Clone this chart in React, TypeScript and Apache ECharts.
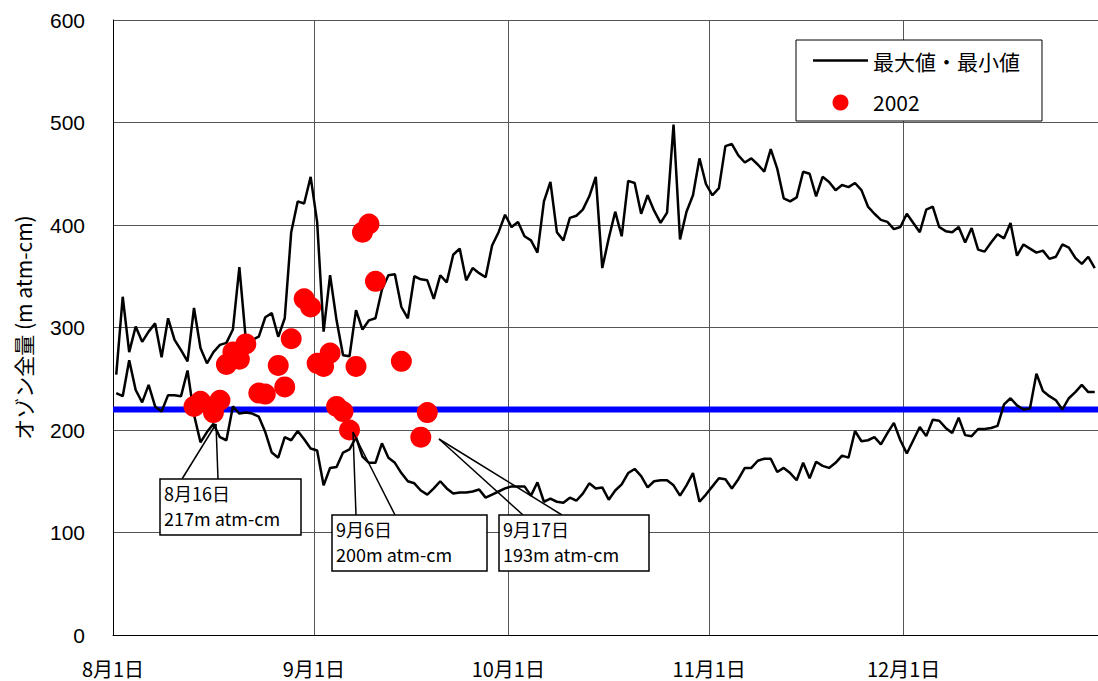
import React, { useEffect, useRef } from "react";
import * as echarts from "echarts";

// Day index 0 = 8月1日, one value per day up to 12月31日
const maxValues = [
  254, 330, 276, 301, 286, 296, 304, 271, 309, 288,
  278, 267, 319, 280, 265, 276, 283, 285, 298, 359,
  288, 288, 291, 310, 314, 291, 309, 393, 423, 421,
  447, 403, 296, 351, 307, 273, 272, 317, 298, 307,
  309, 337, 351, 352, 320, 309, 350, 347, 346, 328,
  351, 344, 371, 377, 346, 358, 353, 349, 380, 393,
  410, 398, 403, 389, 385, 373, 423, 442, 393, 385,
  407, 409, 415, 428, 447, 358, 387, 413, 389, 443,
  441, 411, 429, 414, 402, 412, 498, 386, 413, 429,
  465, 440, 429, 436, 477, 479, 468, 461, 465, 459,
  452, 474, 455, 426, 423, 427, 452, 450, 428, 447,
  442, 434, 439, 437, 441, 434, 418, 411, 405, 403,
  396, 398, 411, 402, 393, 415, 418, 398, 394, 393,
  398, 383, 397, 376, 374, 383, 391, 387, 402, 370,
  381, 377, 373, 375, 367, 369, 381, 378, 368, 362,
  369, 358,
];

const minValues = [
  236, 233, 268, 239, 227, 244, 223, 218, 234, 234,
  233, 258, 215, 188, 198, 206, 193, 190, 223, 216,
  217, 216, 213, 198, 178, 173, 193, 190, 199, 191,
  182, 180, 146, 163, 164, 178, 181, 193, 174, 168,
  168, 187, 173, 168, 158, 150, 148, 141, 137, 143,
  150, 143, 138, 139, 139, 140, 142, 134, 137, 140,
  143, 145, 145, 145, 136, 149, 130, 133, 130, 129,
  134, 131, 138, 148, 143, 144, 132, 141, 147, 158,
  162, 155, 144, 150, 151, 151, 146, 136, 146, 158,
  130, 137, 145, 153, 152, 143, 152, 163, 163, 170,
  172, 172, 159, 163, 158, 151, 168, 153, 169, 165,
  163, 168, 175, 173, 199, 189, 190, 193, 186, 197,
  207, 190, 177, 190, 203, 194, 210, 209, 202, 197,
  212, 195, 194, 201, 201, 202, 204, 225, 231, 224,
  220, 221, 255, 238, 233, 229, 220, 231, 237, 244,
  237, 237,
];

const obs2002Days = [12, 13, 15, 16, 17, 18, 19, 20, 22, 23, 25, 26, 27, 29, 30, 31, 32, 33, 34, 35, 36, 37, 38, 39, 40, 44, 47, 48];
const obs2002Values = [223, 228, 217, 229, 264, 276, 269, 284, 236, 235, 263, 242, 289, 328, 320, 265, 262, 275, 223, 218, 200, 262, 393, 401, 345, 267, 193, 217];

const monthStarts = [0, 31, 61, 92, 122];
const monthLabels = ["8月1日", "9月1日", "10月1日", "11月1日", "12月1日"];
const totalDays = 152;
const thresholdValue = 220;

const calloutDates = ["8月16日", "9月6日", "9月17日"];
const calloutValues = [217, 200, 193];

// callout layout (pixels): box and wedge tip
const calloutLayout = [
  { bx: 160, by: 479, bw: 141, bh: 56, tip: [216, 424], base: [182, 218] },
  { bx: 332, by: 515, bw: 155, bh: 56, tip: [353, 432], base: [356, 395] },
  { bx: 499, by: 515, bw: 150, bh: 56, tip: [439, 439], base: [523, 562] },
];

const SERIES_NAME = "最大値・最小値";
const JP = '"Noto Sans CJK JP", "Noto Sans", sans-serif';
const LAT = '"Liberation Sans", Arial, sans-serif';

export default function App() {
  const ref = useRef<HTMLDivElement>(null);

  useEffect(() => {
    if (!ref.current) return;
    const chart = echarts.init(ref.current, undefined, { renderer: "svg" });

    const maxData = maxValues.map((v, i) => [i + 0.5, v]);
    const minData = minValues.map((v, i) => [i + 0.5, v]);
    const dotData = obs2002Days.map((d, i) => [d + 0.5, obs2002Values[i]]);

    const graphics: any[] = [];
    calloutLayout.forEach((c, k) => {
      graphics.push({
        type: "line",
        z: 100,
        shape: { x1: c.tip[0], y1: c.tip[1], x2: c.base[0], y2: c.by },
        style: { stroke: "#000", lineWidth: 1.5 },
      });
      graphics.push({
        type: "line",
        z: 100,
        shape: { x1: c.tip[0], y1: c.tip[1], x2: c.base[1], y2: c.by },
        style: { stroke: "#000", lineWidth: 1.5 },
      });
      graphics.push({
        type: "rect",
        z: 101,
        shape: { x: c.bx, y: c.by, width: c.bw, height: c.bh },
        style: { fill: "#fff", stroke: "#000", lineWidth: 1.5 },
      });
      graphics.push({
        type: "text",
        z: 102,
        style: {
          text: calloutDates[k],
          x: c.bx + 4,
          y: c.by + 14,
          fill: "#000",
          font: `18px ${JP}`,
          verticalAlign: "middle",
          align: "left",
        },
      });
      graphics.push({
        type: "text",
        z: 102,
        style: {
          text: `${calloutValues[k]}m atm-cm`,
          x: c.bx + 4,
          y: c.by + 39,
          fill: "#000",
          font: `18px ${JP}`,
          verticalAlign: "middle",
          align: "left",
        },
      });
    });

    chart.setOption({
      animation: false,
      grid: { left: 113, right: 0, top: 20, bottom: 46, containLabel: false },
      legend: {
        left: 796,
        top: 40,
        orient: "vertical",
        data: [
          { name: SERIES_NAME, icon: "path://M0,0 L55,0 L55,2.5 L0,2.5 Z", itemStyle: { color: "#000" } },
          { name: "2002", icon: "circle" },
        ],
        itemWidth: 55,
        itemHeight: 16,
        itemGap: 21,
        padding: [10, 22, 8, 17],
        borderColor: "#000",
        borderWidth: 1,
        backgroundColor: "#fff",
        textStyle: { fontSize: 21, fontFamily: JP, color: "#000" },
      },
      xAxis: {
        type: "value",
        min: 0,
        max: totalDays,
        axisLine: { show: true, lineStyle: { color: "#000", width: 1 } },
        axisTick: { show: false },
        splitLine: { show: false },
        axisLabel: {
          customValues: monthStarts,
          formatter: (v: number) => {
            const idx = monthStarts.indexOf(Math.round(v));
            return idx >= 0 ? monthLabels[idx] : "";
          },
          margin: 23,
          fontSize: 20,
          fontFamily: JP,
          color: "#000",
        },
      },
      yAxis: {
        type: "value",
        min: 0,
        max: 600,
        interval: 100,
        name: "オゾン全量 (m atm-cm)",
        nameLocation: "middle",
        nameGap: 80,
        nameTextStyle: { fontSize: 21, fontFamily: JP, color: "#000" },
        axisLine: { show: true, lineStyle: { color: "#000", width: 1 } },
        axisTick: { show: false },
        splitLine: { show: true, lineStyle: { color: "#555", width: 1 } },
        axisLabel: { fontSize: 21, fontFamily: LAT, color: "#000", margin: 28 },
      },
      series: [
        {
          name: "基準値",
          type: "line",
          data: [
            [0, thresholdValue],
            [totalDays, thresholdValue],
          ],
          showSymbol: false,
          symbol: "none",
          lineStyle: { color: "#0000ff", width: 6 },
          silent: true,
          z: 2,
          markLine: {
            silent: true,
            symbol: ["none", "none"],
            label: { show: false },
            lineStyle: { color: "#555", width: 1, type: "solid" },
            data: monthStarts.slice(1).map((m) => ({ xAxis: m })),
            z: 1,
          },
        },
        {
          name: SERIES_NAME,
          type: "line",
          data: maxData,
          symbol: "none",
          showSymbol: false,
          lineStyle: { color: "#000", width: 2.5 },
          itemStyle: { color: "#000" },
          z: 3,
        },
        {
          name: SERIES_NAME,
          type: "line",
          data: minData,
          symbol: "none",
          showSymbol: false,
          lineStyle: { color: "#000", width: 2.5 },
          itemStyle: { color: "#000" },
          z: 3,
        },
        {
          name: "2002",
          type: "scatter",
          data: dotData,
          symbol: "circle",
          symbolSize: 21,
          itemStyle: { color: "#ff0000", opacity: 1 },
          z: 4,
        },
      ],
      graphic: graphics,
    });

    return () => {
      chart.dispose();
    };
  }, []);

  return (
    <div
      ref={ref}
      style={{ width: 1098, height: 681, position: "absolute", left: 0, top: 0, background: "#fff" }}
    />
  );
}
